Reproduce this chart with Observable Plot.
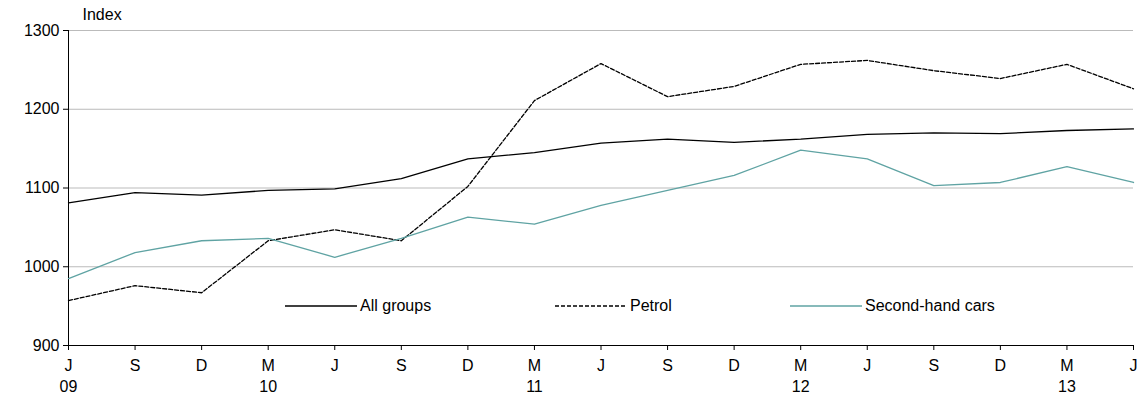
<!DOCTYPE html>
<html><head><meta charset="utf-8">
<script src="https://cdn.jsdelivr.net/npm/d3@7"></script>
<script src="https://cdn.jsdelivr.net/npm/@observablehq/plot@0.6"></script>
<style>
body{margin:0;background:#fff;font-family:"Liberation Sans",Arial,sans-serif;}
#wrap{position:relative;width:1138px;height:405px;}
#legend{position:absolute;top:297px;left:0;font-size:16px;}
.item{position:absolute;display:flex;align-items:center;white-space:nowrap;}
</style></head>
<body><div id="wrap"><div id="myplot"></div><div id="legend"></div></div>
<script>
const months = ["J","S","D","M","J","S","D","M","J","S","D","M","J","S","D","M","J"];
const years = {0:"09",3:"10",7:"11",11:"12",15:"13"};
const allGroups = [1081,1094,1091,1097,1099,1112,1137,1145,1157,1162,1158,1162,1168,1170,1169,1173,1175];
const petrol = [957,976,967,1033,1047,1033,1102,1211,1258,1216,1229,1257,1262,1249,1239,1257,1226];
const secondHand = [985,1018,1033,1036,1012,1036,1063,1054,1078,1097,1116,1148,1137,1103,1107,1127,1107];

const series = [
  {name: "All groups", values: allGroups, stroke: "#000", dash: null, lx: 285},
  {name: "Petrol", values: petrol, stroke: "#000", dash: "4,2", lx: 555},
  {name: "Second-hand cars", values: secondHand, stroke: "#5fa3a3", dash: null, lx: 790},
];

const plot = Plot.plot({
  width: 1138, height: 405,
  marginLeft: 68, marginRight: 5, marginTop: 30, marginBottom: 60,
  style: {fontFamily: "Liberation Sans, Arial, sans-serif", fontSize: "16px", color: "#000"},
  x: {domain: [0, 16], axis: null},
  y: {domain: [900, 1300], axis: null},
  marks: [
    Plot.gridY([1000, 1100, 1200, 1300], {stroke: "#bbb", strokeOpacity: 1}),
    Plot.axisY([900, 1000, 1100, 1200, 1300], {tickSize: 5, tickPadding: 4, fontSize: 16, tickFormat: d3.format("d")}),
    Plot.ruleX([0], {stroke: "#000"}),
    Plot.ruleY([900], {stroke: "#000"}),
    Plot.axisX(d3.range(17), {tickSize: 5, tickPadding: 6, fontSize: 16, lineHeight: 1.3,
      tickFormat: i => months[i] + (years[i] ? "\n" + years[i] : "")}),
    Plot.text(["Index"], {frameAnchor: "top-left", dx: 14, dy: -22, fontSize: 16, textAnchor: "start"}),
    ...series.map(s => Plot.line(s.values, {x: (d, i) => i, y: d => d, stroke: s.stroke,
      strokeWidth: 1.3, strokeDasharray: s.dash}))
  ]
});
document.querySelector("#myplot").append(plot);

const lg = document.querySelector("#legend");
for (const s of series) {
  const el = document.createElement("div");
  el.className = "item";
  el.style.left = s.lx + "px";
  el.innerHTML = `<svg width="72" height="4"><line x1="0" y1="2" x2="72" y2="2" stroke="${s.stroke}" stroke-width="1.5" ${s.dash ? `stroke-dasharray="${s.dash}"` : ""}/></svg><span style="margin-left:3px">${s.name}</span>`;
  lg.append(el);
}
</script></body></html>
